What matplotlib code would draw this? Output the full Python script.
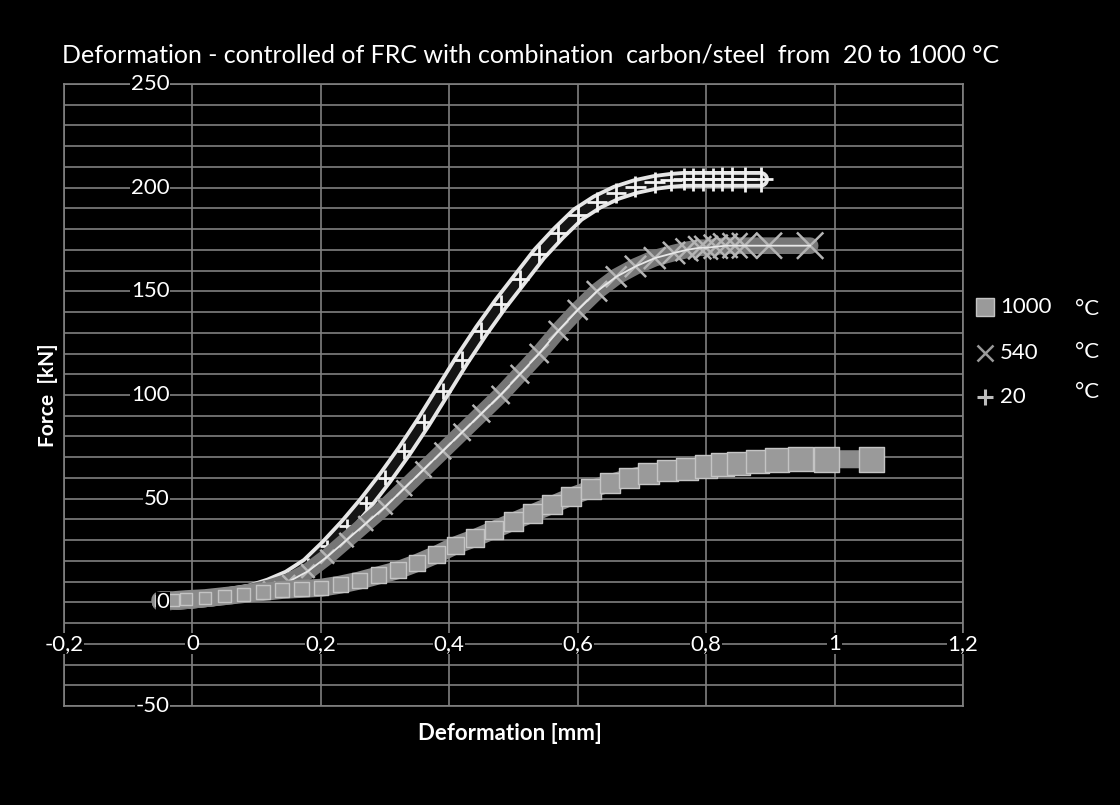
import matplotlib
matplotlib.use("Agg")
from matplotlib import pyplot as plt, lines as mlines, transforms as mtrans
import numpy as np

# Data (deformation [mm], force [kN])
x20 = [-0.05, -0.02, 0.0, 0.03, 0.06, 0.09, 0.12, 0.15, 0.18, 0.21, 0.24, 0.27,
       0.30, 0.33, 0.36, 0.39, 0.42, 0.45, 0.48, 0.51, 0.54, 0.57, 0.60, 0.63,
       0.66, 0.69, 0.72, 0.745, 0.765, 0.78, 0.795, 0.81, 0.825, 0.84, 0.86, 0.885]
y20 = [0, 0.5, 1, 2, 3.5, 5, 8, 12, 18, 27, 37, 48,
       60, 73, 87, 102, 117, 131, 144, 156, 168, 178, 187, 193,
       197.5, 200.5, 202.5, 203.5, 204, 204, 204, 204, 204, 204, 204, 204]

x540 = [-0.05, -0.02, 0.0, 0.03, 0.06, 0.09, 0.12, 0.15, 0.18, 0.21, 0.24, 0.27,
        0.30, 0.33, 0.36, 0.39, 0.42, 0.45, 0.48, 0.51, 0.54, 0.57, 0.60, 0.63,
        0.66, 0.69, 0.72, 0.75, 0.77, 0.79, 0.80, 0.815, 0.83, 0.845, 0.86, 0.898, 0.962]
y540 = [0, 0.5, 1, 2, 3, 5, 7, 10, 15, 22, 30, 38,
        46, 55, 64, 73, 82, 91, 100, 110, 120, 131, 141, 150,
        157, 162, 166, 168.5, 170, 171, 171, 171.5, 172, 172, 172, 172, 172]

x1000 = [-0.05, -0.03, -0.01, 0.02, 0.05, 0.08, 0.11, 0.14, 0.17, 0.2, 0.23, 0.26,
         0.29, 0.32, 0.35, 0.38, 0.41, 0.44, 0.47, 0.5, 0.53, 0.56, 0.59, 0.62,
         0.65, 0.68, 0.71, 0.74, 0.77, 0.8, 0.825, 0.85, 0.88, 0.91, 0.947, 0.987, 1.058]
y1000 = [1, 1, 1.5, 2, 3, 4, 5, 6, 6.5, 7, 8.5, 10.5,
         13, 15.5, 19, 23, 27.5, 31, 35, 39, 43, 47, 51, 54.5,
         57.5, 60, 62, 63.5, 64.5, 65.5, 66.5, 67, 68, 68.5, 69, 69, 69]

x_ticks = [-0.2, 0, 0.2, 0.4, 0.6, 0.8, 1, 1.2]
x_tick_labels = ['-0,2', '0', '0,2', '0,4', '0,6', '0,8', '1', '1,2']
y_ticks = [250, 200, 150, 100, 50, 0, -50]
legend_labels = ['1000', '540', '20']

title = 'Deformation - controlled of FRC with combination  carbon/steel  from  20 to 1000 °C'

plt.rcParams['font.family'] = ['Lato', 'DejaVu Sans']

fig = plt.figure(figsize=(11.2, 8.05), dpi=100, facecolor='black')
ax = fig.add_axes([0.0571, 0.123, 0.8027, 0.7727], facecolor='black')

ax.set_xlim(-0.2, 1.2)
ax.set_ylim(-50, 250)
ax.set_xticks(x_ticks)
ax.set_yticks(np.arange(-50, 251, 10))
ax.grid(True, color='#808080', linewidth=1.2)
ax.set_axisbelow(True)
ax.tick_params(length=0, labelbottom=False, labelleft=False)
for s in ax.spines.values():
    s.set_color('#808080')
    s.set_linewidth(1.2)

# 20 °C : white crosses over a dark band
n = len(x20)
ax.plot(x20, y20, color='#e6e6e6', lw=12, solid_capstyle='round', zorder=3)
ax.plot(x20, y20, color='#141414', lw=6.5, solid_capstyle='round', zorder=3)
ax.scatter(x20, y20, marker='+', s=np.linspace(7, 18, n) ** 2,
           color='#f2f2f2', linewidths=2, zorder=4)

# 540 °C : grey x markers
n = len(x540)
ax.plot(x540, y540, color='#767676', lw=12, solid_capstyle='round', zorder=5)
ax.scatter(x540, y540, marker='x', s=np.linspace(7, 19, n) ** 2,
           color='#b4b4b4', linewidths=1.8, zorder=6)
ax.plot(x540, y540, color='#e8e8e8', lw=1.3, zorder=6)

# 1000 °C : grey squares
n = len(x1000)
ax.plot(x1000, y1000, color='#8a8a8a', lw=13, solid_capstyle='round', zorder=7)
ax.scatter(x1000, y1000, marker='s', s=np.linspace(8, 18, n) ** 2,
           facecolor='#9a9a9a', edgecolor='#c4c4c4', linewidths=1, zorder=8)

# tick labels drawn as text boxes over the grid
lab_box = dict(facecolor='black', edgecolor='none', pad=0.5)
for xv, lab in zip(x_ticks, x_tick_labels):
    ax.text(xv, -20, lab, color='white', fontsize=16, ha='center', va='center',
            bbox=lab_box, zorder=10)
ytrans = mtrans.offset_copy(ax.transData, fig=fig, x=-23, y=0, units='dots')
for yv in y_ticks:
    ax.text(0, yv, str(yv), transform=ytrans, color='white',
            fontsize=16, ha='right', va='center', bbox=lab_box, zorder=10)

fig.text(0.474, 0.9317, title, color='white', fontsize=18, ha='center', va='center')
fig.text(0.455, 0.0894, 'Deformation [mm]', color='white', fontsize=16,
         fontweight='bold', ha='center', va='center')
fig.text(0.043, 0.509, 'Force  [kN]', color='white', fontsize=15,
         fontweight='bold', ha='center', va='center', rotation=90)

# legend built by hand
leg_y = [0.6186, 0.5615, 0.5068]
leg_style = [dict(marker='s', markersize=13, markerfacecolor='#9a9a9a',
                  markeredgecolor='#c4c4c4'),
             dict(marker='x', markersize=11, markeredgecolor='#9a9a9a', markeredgewidth=1.8),
             dict(marker='+', markersize=11, markeredgecolor='#bdbdbd', markeredgewidth=2.2)]
for yy, lab, st in zip(leg_y, legend_labels, leg_style):
    fig.add_artist(mlines.Line2D([0.8795], [yy], transform=fig.transFigure,
                                 linestyle='none', **st))
    fig.text(0.893, yy, lab, color='white', fontsize=16, ha='left', va='center')
fig.text(0.96, 0.6162, '°C', color='white', fontsize=16, ha='left', va='center')
fig.text(0.96, 0.5627, '°C', color='white', fontsize=16, ha='left', va='center')
fig.text(0.96, 0.5130, '°C', color='white', fontsize=16, ha='left', va='center')

fig.savefig('out.png', dpi=100, facecolor='black')
